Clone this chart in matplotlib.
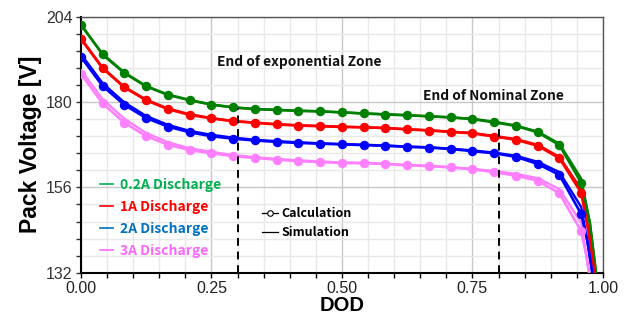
import numpy as np
import matplotlib
matplotlib.use("Agg")
import matplotlib.pyplot as plt
from matplotlib.lines import Line2D
from matplotlib.ticker import MultipleLocator, FixedLocator

# DOD of the marked points (every 1/24) and the steep tail below them
dod = [i / 24 for i in range(24)]

green_calc = [201.7, 193.5, 188.3, 184.5, 182.1, 180.6, 179.3, 178.5, 178.0, 177.8, 177.5, 177.4,
              177.1, 176.8, 176.5, 176.3, 176.0, 175.7, 175.2, 174.3, 173.3, 171.5, 167.9, 157.3]
green_sim = [201.9, 193.3, 188.1, 184.4, 182.0, 180.5, 179.3, 178.5, 178.1, 177.8, 177.6, 177.4,
             177.1, 176.8, 176.6, 176.3, 176.0, 175.7, 175.3, 174.5, 173.4, 171.7, 168.3, 158.5]
green_tail_x = [0.975, 0.99]
green_tail = [146.0, 128.0]

red_calc = [197.7, 189.5, 184.1, 180.5, 178.0, 176.4, 175.4, 174.6, 174.2, 173.7, 173.4, 173.2,
            173.0, 172.9, 172.7, 172.3, 172.0, 171.6, 171.2, 170.3, 169.4, 167.7, 164.2, 154.5]
red_sim = [198.0, 189.7, 184.3, 180.7, 178.2, 176.6, 175.5, 174.7, 174.2, 173.8, 173.5, 173.3,
           173.1, 172.9, 172.7, 172.4, 172.1, 171.7, 171.3, 170.5, 169.6, 168.0, 164.6, 155.5]
red_tail_x = [0.972, 0.988]
red_tail = [144.0, 128.0]

blue_calc = [192.7, 184.5, 179.2, 175.5, 173.1, 171.5, 170.4, 169.7, 169.2, 168.8, 168.5, 168.3,
             168.1, 167.9, 167.7, 167.4, 167.2, 166.8, 166.2, 165.6, 164.6, 162.6, 159.5, 148.5]
blue_sim = [193.5, 185.3, 179.9, 176.1, 173.6, 171.9, 170.8, 170.0, 169.4, 169.0, 168.7, 168.4,
            168.2, 168.0, 167.8, 167.5, 167.3, 166.9, 166.4, 165.8, 164.9, 163.2, 160.3, 150.5]
blue_tail_x = [0.97, 0.985]
blue_tail = [141.0, 127.0]

pink_calc = [187.9, 179.6, 174.2, 170.4, 168.0, 166.5, 165.6, 164.8, 164.3, 163.8, 163.4, 163.1,
             162.9, 162.8, 162.6, 162.2, 162.0, 161.6, 161.1, 160.3, 159.3, 157.9, 154.3, 143.7]
pink_sim = [189.0, 180.8, 175.3, 171.3, 168.7, 167.0, 166.0, 165.1, 164.5, 164.0, 163.6, 163.3,
            163.0, 162.9, 162.7, 162.3, 162.1, 161.7, 161.2, 160.6, 159.8, 158.6, 155.5, 146.0]
pink_tail_x = [0.968, 0.98]
pink_tail = [137.0, 126.0]

labels = ["0.2A Discharge", "1A Discharge", "2A Discharge", "3A Discharge"]
line_colors = ["#008000", "#ff0000", "#0000ff", "#ff80ff"]
text_colors = ["#00b050", "#ff0000", "#0070c0", "#ff66ff"]

zone_x = [0.3, 0.8]
y_ticks = [132, 156, 180, 204]
x_ticks = [0, 0.25, 0.5, 0.75, 1.0]
x_ticklabels = ["0.00", "0.25", "0.50", "0.75", "1.00"]

fig = plt.figure(figsize=(6.32, 3.22), dpi=100)
ax = fig.add_axes([0.128, 0.153, 0.826, 0.795])

series = [(green_calc, green_sim, green_tail_x, green_tail),
          (red_calc, red_sim, red_tail_x, red_tail),
          (blue_calc, blue_sim, blue_tail_x, blue_tail),
          (pink_calc, pink_sim, pink_tail_x, pink_tail)]

for (calc, sim, tx, ty), c in zip(series, line_colors):
    x = dod + tx
    ax.plot(x, sim + ty, color=c, lw=1.7, zorder=3)
    ax.plot(x, calc + ty, color=c, lw=1.9, marker="o", ms=5.8,
            markevery=list(range(len(dod))), zorder=4)

# zone boundaries, up to the 0.2A curve
for zx in zone_x:
    top = np.interp(zx, dod, green_calc)
    ax.plot([zx, zx], [132, top], color="black", ls=(0, (4, 3)), lw=1.4, zorder=5)

ax.set_xlim(0, 1)
ax.set_ylim(132, 204)
ax.set_xticks(x_ticks)
ax.set_xticklabels(x_ticklabels)
ax.xaxis.set_minor_locator(MultipleLocator(0.05))
ax.set_yticks(y_ticks)
ax.yaxis.set_minor_locator(FixedLocator(np.arange(132, 204.1, 4.8)))
ax.grid(which="major", color="#c8c8c8", lw=1.0, zorder=0)
ax.grid(which="minor", color="#e8e8e8", lw=1.0, zorder=0)
ax.set_axisbelow(True)

for lab in ax.get_xticklabels() + ax.get_yticklabels():
    lab.set_fontfamily("Liberation Sans")
    lab.set_fontsize(11.5)
ax.tick_params(which="both", direction="out", length=3.5, width=1, pad=2.5, colors="#333333")
ax.tick_params(axis="x", which="both", colors="black", labelcolor="#222222")
for s in ["left", "bottom"]:
    ax.spines[s].set_linewidth(1.5)
    ax.spines[s].set_color("black")
for s in ["top", "right"]:
    ax.spines[s].set_linewidth(1.0)
    ax.spines[s].set_color("#555555")

ax.set_xlabel("DOD", fontfamily="Liberation Sans", fontweight="bold", fontsize=14.5, labelpad=0)
ax.set_ylabel("Pack Voltage [V]", fontfamily="Liberation Sans", fontweight="bold", fontsize=16.5,
              labelpad=3)

ann = dict(fontfamily="Noto Sans CJK KR", fontweight="bold", fontsize=9.9, color="#111111")
ax.text(0.26, 191.3, "End of exponential Zone", va="center", ha="left", **ann)
ax.text(0.655, 181.7, "End of Nominal Zone", va="center", ha="left", **ann)

handles = [Line2D([], [], color=c, lw=1.2) for c in text_colors]
leg1 = ax.legend(handles, labels, loc="upper left", bbox_to_anchor=(0.013, 0.418),
                 frameon=False, handlelength=0.95, handletextpad=0.5, labelspacing=0.56,
                 prop=dict(family="Noto Sans CJK KR", weight="bold", size=10))
for t, c in zip(leg1.get_texts(), text_colors):
    t.set_color(c)
ax.add_artist(leg1)

h2 = [Line2D([], [], color="black", lw=0.9, marker="o", ms=4, mfc="white", mew=0.8),
      Line2D([], [], color="black", lw=0.9)]
ax.legend(h2, ["Calculation", "Simulation"], loc="upper left", bbox_to_anchor=(0.325, 0.3),
          frameon=False, handlelength=1.3, handletextpad=0.3, labelspacing=0.5,
          prop=dict(family="Noto Sans CJK KR", weight="bold", size=9))

fig.savefig("out.png", dpi=100)
